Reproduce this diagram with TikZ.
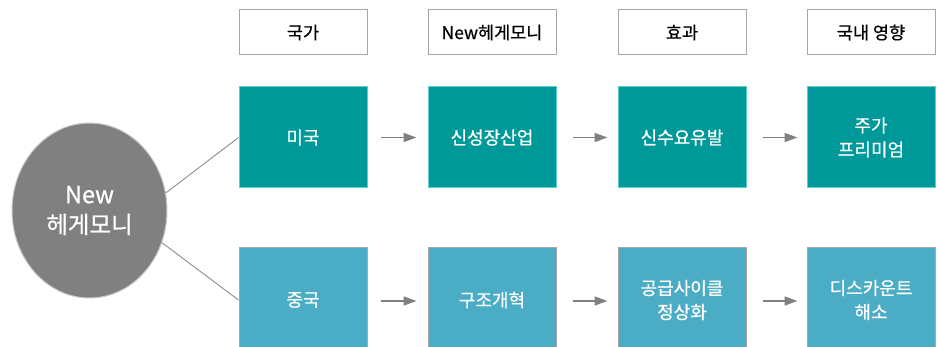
\documentclass[tikz,border=0pt]{standalone}
\usepackage{fontspec}
\setmainfont{Noto Sans CJK KR}[FakeBold=0.6]
\usetikzlibrary{arrows.meta,shapes.geometric}
\definecolor{teal1}{HTML}{009999}
\definecolor{teal1b}{HTML}{5CCFC8}
\definecolor{blue1}{HTML}{4BACC6}
\definecolor{gborder}{HTML}{A6A6A6}
\definecolor{garrow}{HTML}{808080}
\begin{document}
\begin{tikzpicture}[x=1pt,y=-1pt,
  hdr/.style={draw=gborder,line width=1pt,fill=white,minimum width=128pt,minimum height=45pt,inner sep=0pt,font=\fontsize{17.5}{20}\selectfont},
  topbox/.style={draw=teal1b,line width=1pt,fill=teal1,text=white,minimum width=128pt,minimum height=101pt,inner sep=0pt,align=center,font=\fontsize{18}{24}\selectfont},
  botbox/.style={draw=gborder,line width=1pt,fill=blue1,text=white,minimum width=128pt,minimum height=104pt,inner sep=0pt,align=center,font=\fontsize{18}{24}\selectfont},
  flow/.style={draw=garrow,line width=1.5pt,-{Triangle[length=13pt,width=9pt]}},
  link/.style={draw=garrow,line width=0.8pt}]
\useasboundingbox (0,0) rectangle (938,347);
\begin{scope}
\clip (0,0) rectangle (938,347);
% headers
\node[hdr] (h1) at (303,32.5) {국가};
\node[hdr] (h2) at (492,32.5) {New헤게모니};
\node[hdr] (h3) at (682,32.5) {효과};
\node[hdr] (h4) at (871,32.5) {국내 영향};
% top row
\node[topbox] (t1) at (303,137.5) {미국};
\node[topbox] (t2) at (492,137.5) {신성장산업};
\node[topbox] (t3) at (682,137.5) {신수요유발};
\node[topbox] (t4) at (871,137.5) {주가\\프리미엄};
% bottom row
\node[botbox] (b1) at (303,300) {중국};
\node[botbox] (b2) at (492,300) {구조개혁};
\node[botbox] (b3) at (682,300) {공급사이클\\정상화};
\node[botbox] (b4) at (871,300) {디스카운트\\해소};
% ellipse
\node[ellipse,draw=gborder!60,line width=1pt,fill=garrow,minimum width=155pt,minimum height=175pt,inner sep=0pt,text=white,align=center,font=\fontsize{23.5}{30}\selectfont] (c) at (89.5,210.5) {New\\헤게모니};
\end{scope}
% links
\draw[link] (c.13) -- (t1.west);
\draw[link] (c.-24) -- (b1.west);
% arrows
\draw[flow] ([xshift=13pt]t1.east) -- ([xshift=-11pt]t2.west);
\draw[flow] ([xshift=16pt]t2.east) -- ([xshift=-10pt]t3.west);
\draw[flow] ([xshift=16pt]t3.east) -- ([xshift=-9pt]t4.west);
\draw[flow] ([xshift=13pt,yshift=-1pt]b1.east) -- ([xshift=-11pt,yshift=-1pt]b2.west);
\draw[flow] ([xshift=16pt,yshift=-1pt]b2.east) -- ([xshift=-10pt,yshift=-1pt]b3.west);
\draw[flow] ([xshift=16pt,yshift=-1pt]b3.east) -- ([xshift=-9pt,yshift=-1pt]b4.west);
\end{tikzpicture}
\end{document}
